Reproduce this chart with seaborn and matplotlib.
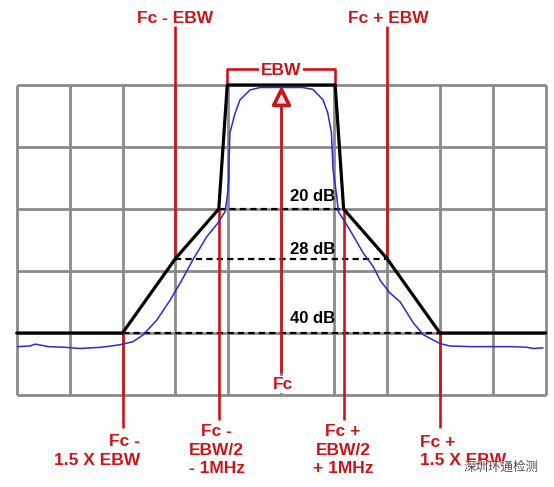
import matplotlib
matplotlib.use("Agg")
import matplotlib.pyplot as plt
import seaborn as sns
import numpy as np

# frequency axis in grid divisions (Fc = 0), level axis in dB below the top line
grid_cols = np.arange(-5, 6)
grid_rows = np.arange(0, -60, -10)

mask_x = [-5, -3, -2, -1.18, -1.02, 1.02, 1.18, 2, 3, 5]
mask_db = [-40, -40, -28, -20, 0, 0, -20, -28, -40, -40]

trace_x = [-4.98, -4.75, -4.65, -4.4, -4.1, -3.8, -3.4, -3.05, -2.8, -2.61, -2.35,
           -2.1, -1.88, -1.67, -1.41, -1.2, -1.06, -1.02, -0.99, -0.99, -0.97, -0.87,
           -0.78, -0.59, -0.4, 0.0, 0.4, 0.6, 0.79, 0.88, 0.95, 0.98, 1.02, 1.05,
           1.08, 1.3, 1.55, 1.74, 1.87, 2.05, 2.25, 2.5, 2.69, 3.0, 3.19, 3.6,
           4.01, 4.35, 4.64, 4.77, 4.95]
trace_db = [-42.2, -42.1, -41.8, -42.2, -42.3, -42.5, -42.3, -41.9, -41.4, -40.3, -37.9,
            -34.7, -31.5, -28.2, -24.5, -22.3, -20.4, -18.0, -15.3, -13.7, -7.7, -4.5,
            -2.4, -0.8, -0.4, -0.4, -0.4, -0.7, -2.4, -4.5, -7.7, -13.7, -16.0, -18.0,
            -20.4, -23.4, -27.1, -29.3, -31.5, -33.5, -35.0, -38.4, -40.3, -41.7, -42.1, -42.2,
            -42.2, -42.2, -42.3, -42.5, -42.4]

limit_db = [-20, -28, -40]
limit_half = [1.18, 2, 3]
limit_labels = ["20 dB", "28 dB", "40 dB"]

red_x = [-3, -2, -1.18, 0, 1.18, 2, 3]
red_top = [-40, 9.5, -20, -3.2, -20, 9.5, -40]
red_bottom = [-55.3, -28, -54, -46.5, -54, -28, -55.3]

RED = "#cf1418"
GRAY = "#8a8a8a"

sns.set_style("white")
plt.rcParams["font.family"] = ["Liberation Sans", "DejaVu Sans"]

fig = plt.figure(figsize=(5.54, 4.87), dpi=100)
ax = fig.add_axes([0, 0, 1, 1])
ax.set_xlim(-5.316, 5.157)
ax.set_ylim(-64.84, 13.71)
ax.axis("off")

# screen graticule
ax.vlines(grid_cols, -50, 0, color=GRAY, lw=2.0, zorder=1)
ax.hlines(grid_rows, -5, 5, color=GRAY, lw=2.0, zorder=1)

# limit levels
ax.hlines(limit_db, [-h for h in limit_half], limit_half, color="black",
          lw=1.6, linestyles=(0, (2.8, 1.9)), zorder=2)
for lab, db, dy in zip(limit_labels, limit_db, [2.0, 1.5, 2.3]):
    ax.text(0.6, db + dy, lab, ha="center", va="center", fontsize=12,
            fontweight="bold", color="black", zorder=6)

# red markers
ax.vlines(red_x, red_bottom, red_top, color=RED, lw=1.9, zorder=3)

# measured trace and mask
sns.lineplot(x=trace_x, y=trace_db, sort=False, estimator=None, ax=ax,
             color="#2a2ad6", lw=1.1, zorder=4)
sns.lineplot(x=mask_x, y=mask_db, sort=False, estimator=None, ax=ax,
             color="black", lw=2.3, zorder=5)

# centre marker
sns.scatterplot(x=[0], y=[-1.94], marker="^", s=130, color="#e2e2e2",
                edgecolor=RED, linewidth=2.6, ax=ax, zorder=7)

# EBW bracket
ax.plot([-1.02, -1.02, 1.02, 1.02], [0.2, 2.6, 2.6, 0.2], color=RED, lw=1.9, zorder=3)
txt = dict(fontsize=12.5, fontweight="bold", color=RED, zorder=8)
ax.text(0, 2.4, "EBW", ha="center", va="center",
        bbox=dict(facecolor="white", edgecolor="none", pad=1.5), **txt)

ax.text(-2, 10.8, "Fc - EBW", ha="center", va="center", **txt)
ax.text(2.02, 10.8, "Fc + EBW", ha="center", va="center", **txt)
ax.text(0.04, -48.3, "Fc", ha="center", va="center",
        bbox=dict(facecolor="white", edgecolor="none", pad=0.5), **txt)

ax.text(-2.67, -59.0, "Fc -\n1.5 X EBW", ha="right", va="center", linespacing=1.3, **txt)
ax.text(-1.22, -58.9, "Fc -\nEBW/2\n- 1MHz", ha="center", va="center", linespacing=1.3, **txt)
ax.text(1.17, -58.9, "Fc +\nEBW/2\n+ 1MHz", ha="center", va="center", linespacing=1.3, **txt)
ax.text(2.62, -59.1, "Fc +\n1.5 X EBW", ha="left", va="center", linespacing=1.3, **txt)

# watermark
ax.text(3.44, -61.7, "深圳环通检测", ha="left", va="center", fontsize=9,
        color="#505050", family=["Noto Sans CJK SC", "DejaVu Sans"], zorder=9,
        bbox=dict(facecolor="white", edgecolor="none", alpha=0.6, pad=0.3))

fig.savefig("out.png", dpi=100)
